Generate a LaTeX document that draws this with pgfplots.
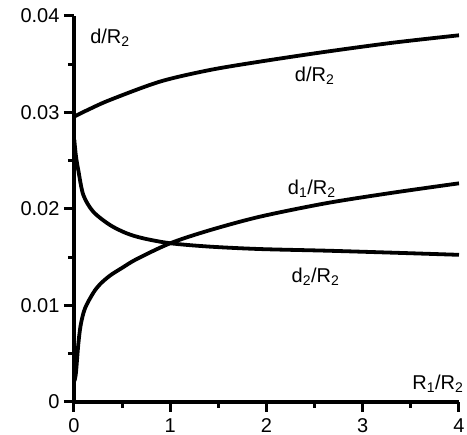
\documentclass[border=0pt]{standalone}
\usepackage{pgfplots}
\pgfplotsset{compat=1.18}
\usepackage{fontspec}
\setmainfont{Liberation Sans}

\begin{document}
\begin{tikzpicture}[font=\fontsize{20}{23}\selectfont]
\path[use as bounding box] (-74pt,-33pt) rectangle (393pt,402pt);
\begin{axis}[at={(0,0)}, anchor=south west,
  scale only axis, width=385pt, height=386pt,
  xmin=0, xmax=4, ymin=0, ymax=0.04,
  axis x line*=bottom, axis y line*=left,
  every outer x axis line/.style={line width=3.2pt, black},
  every outer y axis line/.style={line width=3.2pt, black},
  tick align=outside,
  major tick length=10pt, minor tick length=6pt,
  every tick/.style={black, line width=3pt},
  minor x tick num=1, minor y tick num=1,
  xtick={0,1,2,3,4}, xticklabels={0,1,2,3,4},
  ytick={0,0.01,0.02,0.03,0.04}, yticklabels={0,0.01,0.02,0.03,0.04},
  scaled y ticks=false,
  /pgf/number format/assume math mode=true,
  every tick label/.append style={font=\fontsize{20}{23}\selectfont},
  xticklabel style={yshift=-3pt},
  yticklabel style={xshift=-1pt},
  clip=false]

% d/R2
\addplot[black, line width=3.8pt, line join=round, no marks, smooth] coordinates {
  (0,0.02957) (0.15,0.0303) (0.374,0.0313) (0.893,0.0332)
  (1.41,0.0344) (1.93,0.03527) (2.62,0.0363) (3.32,0.03724) (4.0,0.0380)};

% d1/R2
\addplot[black, line width=3.8pt, line join=round, no marks, smooth] coordinates {
  (0.005,0.0022) (0.02,0.0030) (0.045,0.0060) (0.07,0.0080)
  (0.114,0.0097) (0.2,0.0113) (0.27,0.0122) (0.374,0.0131) (0.5,0.0139)
  (0.65,0.0148) (1.0,0.01645)
  (1.41,0.0178) (1.93,0.0192) (2.62,0.0206) (3.32,0.0217) (4.0,0.02266)};

% d2/R2
\addplot[black, line width=3.8pt, line join=round, no marks, smooth] coordinates {
  (0.003,0.0272) (0.02,0.0255) (0.045,0.0240) (0.097,0.02145)
  (0.2,0.01972) (0.374,0.01834) (0.547,0.01748) (0.72,0.01696) (1.0,0.01645)
  (1.41,0.0161) (1.93,0.01585) (2.62,0.01568) (3.32,0.01547) (4.0,0.01525)};

\node at (axis cs:0.374,0.03777) {d/R\textsubscript{2}};
\node at (axis cs:2.50,0.03378) {d/R\textsubscript{2}};
\node at (axis cs:2.47,0.02207) {d\textsubscript{1}/R\textsubscript{2}};
\node at (axis cs:2.51,0.01295) {d\textsubscript{2}/R\textsubscript{2}};
\node at (axis cs:3.78,0.00187) {R\textsubscript{1}/R\textsubscript{2}};
\end{axis}
\end{tikzpicture}
\end{document}
